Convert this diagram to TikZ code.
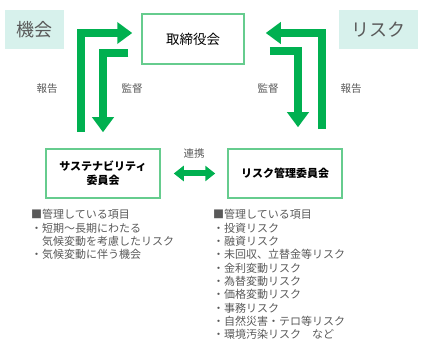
\documentclass[tikz,border=0pt]{standalone}
\usepackage{fontspec}
\setmainfont{Noto Sans CJK JP}
\usetikzlibrary{arrows.meta,positioning}
\definecolor{arrowgreen}{HTML}{00B050}
\definecolor{boxgreen}{HTML}{66CC8E}
\definecolor{tagfill}{HTML}{D7F1EC}
\definecolor{labelgray}{HTML}{595959}

\begin{document}
\begin{tikzpicture}[
        x=1pt, y=-1pt,
        tagbox/.style={fill=tagfill, draw=none, minimum height=39pt, inner sep=0pt,
            text=labelgray, font=\fontsize{18}{20}\selectfont},
        board/.style={draw=boxgreen, line width=1.5pt, fill=white, minimum width=102pt,
            minimum height=50pt, font=\fontsize{13.5}{16}\selectfont},
        committee/.style={draw=boxgreen, line width=1.5pt, fill=white, minimum width=114pt,
            minimum height=49pt, align=center, font=\bfseries\fontsize{11}{14}\selectfont},
        lbl/.style={text=labelgray, font=\fontsize{10.5}{12}\selectfont, inner sep=0pt},
        itemlist/.style={text=labelgray, anchor=north west, align=left, inner sep=0pt,
            font=\fontsize{11}{13.3}\selectfont},
        bigarrow/.style={draw=arrowgreen, line width=8pt, line join=miter,
            -{Triangle[length=15pt,width=21pt]}},
        linkarrow/.style={draw=arrowgreen, line width=6pt,
            {Triangle[length=10pt,width=15pt]}-{Triangle[length=10pt,width=15pt]}}
    ]
        \useasboundingbox (0,0) rectangle (425,344);

        % boxes
        \node[tagbox, minimum width=59pt] (chance) at (34.5,29.5) {機会};
        \node[tagbox, minimum width=79pt] (risktag) at (378.5,29.5) {リスク};
        \node[board] (board) at (193,39) {取締役会};
        \node[committee] (sust) at (103,173.5) {サステナビリティ\\委員会};
        \node[committee] (riskcom) at (285,173.5) {リスク管理委員会};

        % report / audit
        \draw[bigarrow, shorten >=9pt] ([xshift=-22pt,yshift=16pt]sust.north) |- ([yshift=6pt]board.west);
        \draw[bigarrow, shorten <=13pt, shorten >=16pt] ([yshift=-14pt]board.west) -| (sust.north);
        \draw[bigarrow, shorten >=21pt] ([xshift=37pt,yshift=19pt]riskcom.north) |- ([yshift=6pt]board.east);
        \draw[bigarrow, shorten <=25pt, shorten >=21pt] ([yshift=-12pt]board.east) -| ([xshift=13pt]riskcom.north);

        \node[lbl] (rep1) at (47,89) {報告};
        \node[lbl] (aud1) at (132,89) {監督};
        \node[lbl] (aud2) at (268,89) {監督};
        \node[lbl] (rep2) at (351,89) {報告};

        % link
        \draw[linkarrow, shorten <=13pt, shorten >=12pt] (sust.east) -- (riskcom.west);
        \node[lbl] (linklbl) at (194,154) {連携};

        % lists
        \node[itemlist] (sustlist) at (31,209.5) {■管理している項目\\
            ・短期〜長期にわたる\\
            \hspace*{1em}気候変動を考慮したリスク\\
            ・気候変動に伴う機会};
        \node[itemlist] (risklist) at (213,209.5) {■管理している項目\\
            ・投資リスク\\
            ・融資リスク\\
            ・未回収、立替金等リスク\\
            ・金利変動リスク\\
            ・為替変動リスク\\
            ・価格変動リスク\\
            ・事務リスク\\
            ・自然災害・テロ等リスク\\
            ・環境汚染リスク　など};
    \end{tikzpicture}
\end{document}
